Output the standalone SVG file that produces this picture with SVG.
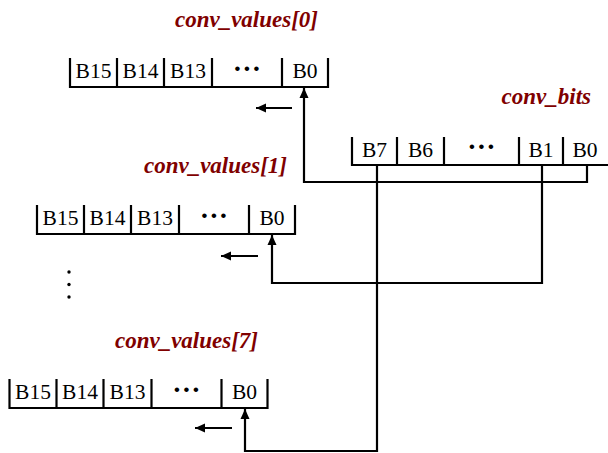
<svg xmlns="http://www.w3.org/2000/svg" width="608" height="453" viewBox="0 0 608 453">
  <defs>
    <marker id="head" viewBox="0 0 10 10" refX="10" refY="5" markerWidth="10" markerHeight="10" markerUnits="userSpaceOnUse" orient="auto">
      <path d="M0,0.5 L10,5 L0,9.5 Z" fill="#000"/>
    </marker>
    <style>
      .reg { fill: none; stroke: #000; stroke-width: 2.2; }
      .bit { font-family: "Liberation Serif", "Times New Roman", serif; font-size: 21.5px; fill: #000; text-anchor: middle; }
      .dots { font-family: "Liberation Serif", "Times New Roman", serif; font-size: 28px; font-weight: bold; fill: #000; text-anchor: middle; }
      .title { font-family: "Liberation Serif", "Times New Roman", serif; font-size: 23px; font-weight: bold; font-style: italic; fill: #800000; text-anchor: end; }
      .wire { fill: none; stroke: #000; stroke-width: 2.2; }
      .shift { fill: none; stroke: #000; stroke-width: 2.2; marker-end: url(#head); }
    </style>
    <!-- 16-bit register: cells B15 B14 B13 ... B0 -->
    <g id="reg16">
      <path class="reg" d="M0,-29 V0 H258 V-29 M47,-29 V0 M94,-29 V0 M142,-29 V0 M212,-29 V0"/>
      <text class="bit" x="23.5" y="-9">B15</text>
      <text class="bit" x="70.5" y="-9">B14</text>
      <text class="bit" x="118" y="-9">B13</text>
      <text class="dots" x="167.5 177 186.5" y="-9">···</text>
      <text class="bit" x="235" y="-9">B0</text>
    </g>
  </defs>

  <!-- conv_values[0] -->
  <g id="conv_values_0">
    <text class="title" x="318" y="27">conv_values[0]</text>
    <use href="#reg16" x="70" y="87"/>
  </g>

  <!-- conv_values[1] -->
  <g id="conv_values_1">
    <text class="title" x="287" y="173">conv_values[1]</text>
    <use href="#reg16" x="37" y="234"/>
  </g>

  <!-- vertical ellipsis between registers -->
  <g id="ellipsis" fill="#000">
    <circle cx="69" cy="272" r="1.7"/>
    <circle cx="69" cy="284.5" r="1.7"/>
    <circle cx="69" cy="297" r="1.7"/>
  </g>

  <!-- conv_values[7] -->
  <g id="conv_values_7">
    <text class="title" x="258" y="348">conv_values[7]</text>
    <use href="#reg16" x="9.5" y="408"/>
  </g>

  <!-- conv_bits: 8-bit source register -->
  <g id="conv_bits">
    <text class="title" x="591" y="104">conv_bits</text>
    <path class="reg" d="M352,137 V165 H608 M397,137 V165 M444,137 V165 M519,137 V165 M563,137 V165"/>
    <text class="bit" x="374.5" y="157">B7</text>
    <text class="bit" x="420.5" y="157">B6</text>
    <text class="dots" x="472 481.5 491" y="156">···</text>
    <text class="bit" x="541" y="157">B1</text>
    <text class="bit" x="585" y="157">B0</text>
  </g>

  <!-- bit routing and shift direction arrows -->
  <g id="connectors">
    <path class="shift" d="M587,165 V182 H304 V88"/>
    <path class="shift" d="M542,165 V283 H272 V235"/>
    <path class="shift" d="M377,165 V451 H245 V409"/>
    <path class="shift" d="M292,108 H256"/>
    <path class="shift" d="M258,256 H221"/>
    <path class="shift" d="M232,428 H195"/>
  </g>
</svg>
